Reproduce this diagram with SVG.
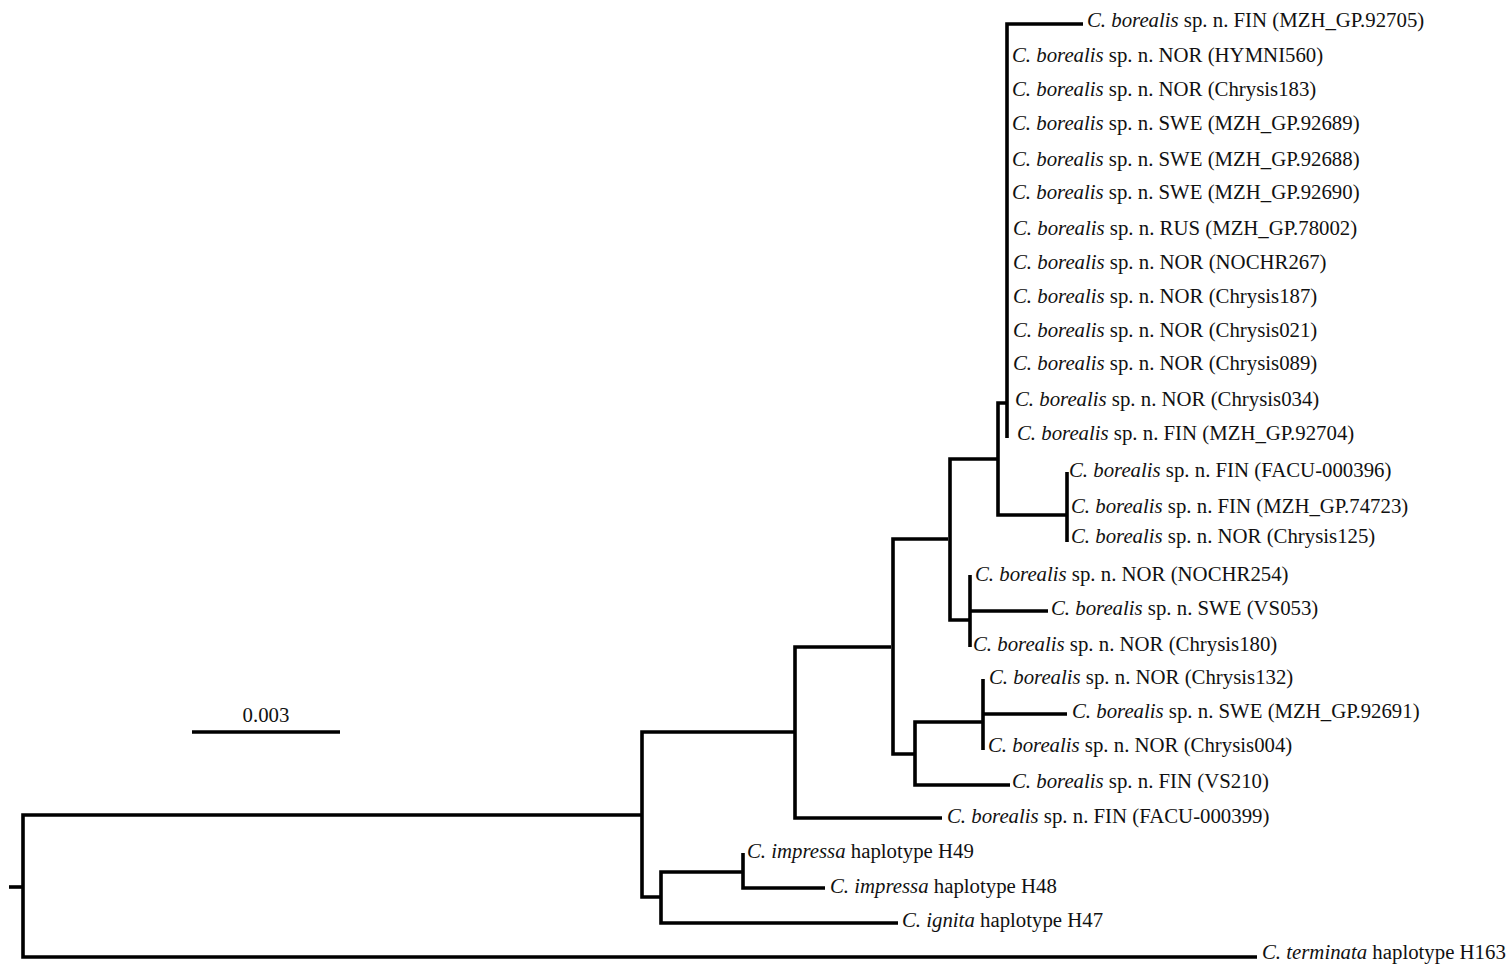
<svg xmlns="http://www.w3.org/2000/svg" width="1512" height="975" viewBox="0 0 1512 975">
<style>
.br{fill:none;stroke:#000;stroke-width:3.6;stroke-linejoin:miter;stroke-linecap:butt}
text{font-family:"Liberation Serif","Times New Roman",serif;font-size:20.8px;fill:#111}
.i{font-style:italic}
</style>
<rect width="1512" height="975" fill="#fff"/>
<g id="connectors" class="br">
<path d="M9 887H23"/>
<path d="M641 815H23V957H1257"/>
<path d="M795 732H642V897H661"/>
<path d="M743 872H661V923H898"/>
<path d="M743 853V888H825"/>
<path d="M891 647H795V818H942"/>
<path d="M948 539H893V754H915"/>
<path d="M983 722H915V785H1010"/>
<path d="M983 679V750M983 714H1067"/>
<path d="M998 459H950V620H970"/>
<path d="M970 575V647M970 611H1048"/>
<path d="M1007 403H998V515H1067"/>
<path d="M1067 472V542"/>
<path d="M1083 24H1007V438"/>
<path d="M192 732H340"/>
</g>
<g id="scale"><text x="266" y="722" text-anchor="middle">0.003</text></g>
<g id="t1"><text x="1087" y="27"><tspan class="i">C. borealis</tspan> sp. n. FIN (MZH_GP.92705)</text></g>
<g id="t2"><text x="1012" y="62"><tspan class="i">C. borealis</tspan> sp. n. NOR (HYMNI560)</text></g>
<g id="t3"><text x="1012" y="96"><tspan class="i">C. borealis</tspan> sp. n. NOR (Chrysis183)</text></g>
<g id="t4"><text x="1012" y="130"><tspan class="i">C. borealis</tspan> sp. n. SWE (MZH_GP.92689)</text></g>
<g id="t5"><text x="1012" y="166"><tspan class="i">C. borealis</tspan> sp. n. SWE (MZH_GP.92688)</text></g>
<g id="t6"><text x="1012" y="199"><tspan class="i">C. borealis</tspan> sp. n. SWE (MZH_GP.92690)</text></g>
<g id="t7"><text x="1013" y="235"><tspan class="i">C. borealis</tspan> sp. n. RUS (MZH_GP.78002)</text></g>
<g id="t8"><text x="1013" y="269"><tspan class="i">C. borealis</tspan> sp. n. NOR (NOCHR267)</text></g>
<g id="t9"><text x="1013" y="303"><tspan class="i">C. borealis</tspan> sp. n. NOR (Chrysis187)</text></g>
<g id="t10"><text x="1013" y="337"><tspan class="i">C. borealis</tspan> sp. n. NOR (Chrysis021)</text></g>
<g id="t11"><text x="1013" y="370"><tspan class="i">C. borealis</tspan> sp. n. NOR (Chrysis089)</text></g>
<g id="t12"><text x="1015" y="406"><tspan class="i">C. borealis</tspan> sp. n. NOR (Chrysis034)</text></g>
<g id="t13"><text x="1017" y="440"><tspan class="i">C. borealis</tspan> sp. n. FIN (MZH_GP.92704)</text></g>
<g id="t14"><text x="1069" y="477"><tspan class="i">C. borealis</tspan> sp. n. FIN (FACU-000396)</text></g>
<g id="t15"><text x="1071" y="513"><tspan class="i">C. borealis</tspan> sp. n. FIN (MZH_GP.74723)</text></g>
<g id="t16"><text x="1071" y="543"><tspan class="i">C. borealis</tspan> sp. n. NOR (Chrysis125)</text></g>
<g id="t17"><text x="975" y="581"><tspan class="i">C. borealis</tspan> sp. n. NOR (NOCHR254)</text></g>
<g id="t18"><text x="1051" y="615"><tspan class="i">C. borealis</tspan> sp. n. SWE (VS053)</text></g>
<g id="t19"><text x="973" y="651"><tspan class="i">C. borealis</tspan> sp. n. NOR (Chrysis180)</text></g>
<g id="t20"><text x="989" y="684"><tspan class="i">C. borealis</tspan> sp. n. NOR (Chrysis132)</text></g>
<g id="t21"><text x="1072" y="718"><tspan class="i">C. borealis</tspan> sp. n. SWE (MZH_GP.92691)</text></g>
<g id="t22"><text x="988" y="752"><tspan class="i">C. borealis</tspan> sp. n. NOR (Chrysis004)</text></g>
<g id="t23"><text x="1012" y="788"><tspan class="i">C. borealis</tspan> sp. n. FIN (VS210)</text></g>
<g id="t24"><text x="947" y="823"><tspan class="i">C. borealis</tspan> sp. n. FIN (FACU-000399)</text></g>
<g id="t25"><text x="747" y="858"><tspan class="i">C. impressa</tspan> haplotype H49</text></g>
<g id="t26"><text x="830" y="893"><tspan class="i">C. impressa</tspan> haplotype H48</text></g>
<g id="t27"><text x="902" y="927"><tspan class="i">C. ignita</tspan> haplotype H47</text></g>
<g id="t28"><text x="1262" y="959"><tspan class="i">C. terminata</tspan> haplotype H163</text></g>
</svg>
